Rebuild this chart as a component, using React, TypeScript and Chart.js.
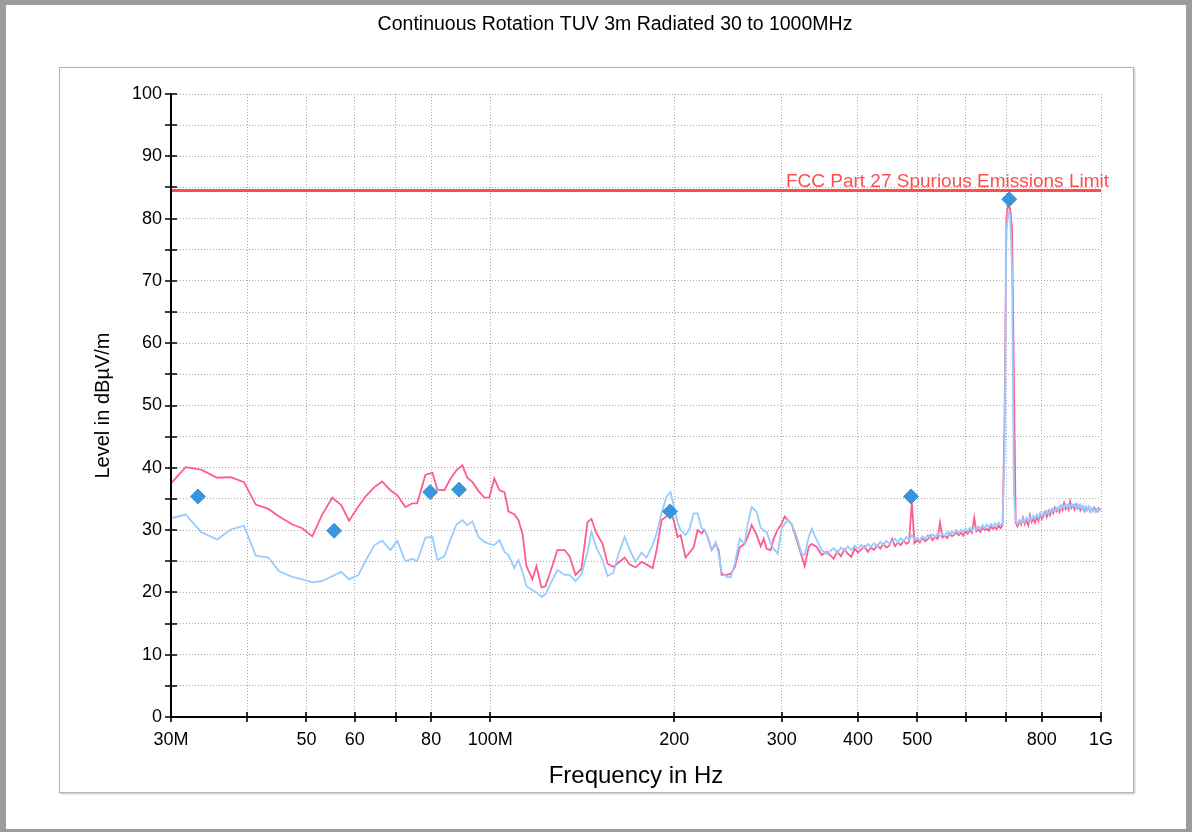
import React, { useEffect, useRef } from 'react';
import { Chart, registerables } from 'chart.js';

Chart.register(...registerables);

const FONT = "'Liberation Sans', Arial, Helvetica, sans-serif";

const chartTitle = 'Continuous Rotation TUV 3m Radiated 30 to 1000MHz';
const xAxisTitle = 'Frequency in Hz';
const yAxisTitle = 'Level in dBµV/m';
const limitLabel = 'FCC Part 27 Spurious Emissions Limit';
const limitLevel = 84.5;

const xTickValues = [30, 40, 50, 60, 70, 80, 100, 200, 300, 400, 500, 600, 700, 800, 1000];
const xTickLabels = ['30M', '', '50', '60', '', '80', '100M', '200', '300', '400', '500', '', '', '800', '1G'];
const yTickValues = [0, 5, 10, 15, 20, 25, 30, 35, 40, 45, 50, 55, 60, 65, 70, 75, 80, 85, 90, 95, 100];

// Sweep, lower band (MHz)
const freqLow = [
  30.0, 31.7, 33.6, 35.7, 37.6, 39.5, 41.3, 43.3, 45.1, 47.4, 49.2, 51.1, 53.0, 55.1, 57.0, 58.7,
  60.8, 62.6, 64.6, 66.5, 68.6, 70.4, 72.6, 74.5, 75.9, 78.3, 80.4, 81.9, 84.1, 86.0, 88.0, 90.0,
  91.7, 93.5, 95.6, 97.8, 99.6, 101.5, 103.5, 105.5, 107.1, 109.5, 111.2, 112.9, 114.6, 117.2, 119.0,
  121.3, 123.1, 125.9, 128.8, 132.3, 134.8, 137.9, 141.0, 144.3, 146.4, 149.2, 152.7, 155.6, 159.1,
  162.2, 165.9, 169.0, 172.9, 176.9, 180.2, 184.4, 187.2, 190.7, 194.4, 197.3, 199.6, 202.6, 204.9,
  208.8, 212.0, 215.2, 218.5, 221.8, 224.4, 226.9, 230.4, 233.9, 236.5, 239.2, 243.8, 247.5, 251.3,
  256.1, 260.9, 263.9, 267.9, 273.0, 277.2, 280.4, 283.5, 287.9, 291.1, 295.5, 300.0, 303.4, 306.9,
  311.6, 317.5, 323.5, 327.2, 332.2, 336.0, 342.4, 348.9, 355.6,
];
const redLow = [
  37.5, 40.1, 39.7, 38.4, 38.5, 37.7, 34.1, 33.4, 32.2, 30.9, 30.3, 29.0, 32.4, 35.2, 34.0, 31.5,
  33.8, 35.5, 36.9, 37.8, 36.4, 35.6, 33.7, 34.3, 34.3, 38.9, 39.2, 36.5, 36.4, 38.2, 39.6, 40.4,
  38.4, 37.7, 36.3, 35.2, 35.2, 38.3, 36.4, 36.1, 33.0, 32.5, 31.6, 29.4, 24.2, 22.1, 24.2,
  20.8, 21.0, 23.8, 26.8, 26.8, 25.8, 22.8, 23.8, 31.3, 31.8, 29.5, 27.8, 24.6, 24.1,
  24.8, 25.6, 24.5, 24.0, 24.9, 24.5, 23.9, 26.8, 31.6, 32.2, 32.9, 31.6, 28.9, 29.2,
  25.6, 26.4, 27.2, 30.0, 29.5, 30.0, 28.9, 26.8, 27.8, 26.8, 22.8, 22.8, 23.0, 24.0,
  27.2, 27.8, 28.9, 30.8, 29.2, 27.4, 28.6, 27.0, 26.8, 28.6, 30.1, 31.0, 32.2, 31.6,
  30.9, 28.4, 25.8, 24.2, 27.3, 27.8, 27.3, 26.0, 26.5,
];
const blueLow = [
  31.9, 32.5, 29.7, 28.5, 30.1, 30.7, 25.9, 25.6, 23.4, 22.5, 22.1, 21.6, 21.8, 22.6, 23.3, 22.1,
  22.8, 25.2, 27.6, 28.3, 26.8, 28.3, 25.0, 25.4, 25.0, 28.8, 28.9, 25.2, 25.8, 28.4, 30.9, 31.6,
  30.8, 31.4, 28.9, 28.1, 27.8, 27.6, 28.4, 26.5, 26.0, 23.9, 25.2, 23.3, 21.0, 20.4, 20.0,
  19.3, 19.7, 21.7, 23.6, 22.8, 22.8, 21.8, 22.9, 26.5, 29.7, 27.2, 25.2, 22.6, 23.2,
  26.2, 28.9, 27.0, 24.9, 26.4, 25.6, 27.6, 29.5, 32.7, 35.4, 36.1, 34.0, 31.3, 30.0,
  29.2, 30.2, 32.7, 32.7, 30.3, 30.0, 28.9, 26.8, 28.1, 26.2, 23.3, 22.5, 22.4, 24.6,
  28.6, 27.8, 31.0, 33.7, 32.9, 30.4, 29.9, 29.7, 27.8, 27.0, 26.2, 30.3, 31.0, 31.6,
  31.0, 28.9, 26.2, 26.0, 28.9, 30.2, 28.4, 26.8, 26.2,
];

// Sweep, upper band (MHz)
const freqHigh = [
  360, 365, 370, 375, 380, 385, 390, 395, 400, 405,
  410, 415, 420, 425, 430, 435, 440, 445, 450, 455,
  460, 465, 470, 475, 480, 485, 490, 495, 500, 505,
  510, 515, 520, 525, 530, 535, 540, 545, 550, 555,
  560, 565, 570, 575, 580, 585, 590, 595, 600, 605,
  610, 615, 620, 625, 630, 635, 640, 645, 650, 655,
  660, 665, 670, 675, 680, 685, 690, 695, 700, 705,
  710, 715, 720, 725, 730, 735, 740, 745, 750, 755,
  760, 765, 770, 775, 780, 785, 790, 795, 800, 805,
  810, 815, 820, 825, 830, 835, 840, 845, 850, 855,
  860, 865, 870, 875, 880, 885, 890, 895, 900, 905,
  910, 915, 920, 925, 930, 935, 940, 945, 950, 955,
  960, 965, 970, 975, 980, 985, 990, 995, 1000,
];
const redHigh = [
  26.0, 25.4, 26.6, 25.8, 26.9, 26.2, 25.7, 27.0, 26.4, 26.9,
  27.4, 26.5, 27.2, 26.8, 27.6, 27.0, 27.8, 27.2, 27.5, 28.6,
  27.4, 28.0, 27.6, 28.3, 27.8, 28.1, 34.5, 27.9, 28.4, 28.0,
  28.8, 28.2, 28.5, 29.1, 28.4, 28.9, 28.6, 31.2, 28.8, 29.1,
  28.7, 29.5, 29.0, 29.3, 29.6, 29.2, 29.6, 29.1, 29.8, 29.4,
  30.0, 29.6, 32.0, 29.8, 30.1, 29.7, 30.4, 30.0, 30.2, 29.9,
  30.6, 30.2, 30.5, 30.1, 30.7, 30.3, 30.8, 47.0, 80.0, 82.5,
  81.5, 78.5, 55.0, 31.2, 30.6, 31.5, 30.9, 32.0, 31.0, 31.6,
  30.8, 32.4, 31.3, 31.8, 31.2, 32.2, 31.5, 32.6, 31.8, 32.3,
  32.9, 32.1, 33.0, 32.4, 33.2, 32.7, 33.6, 33.0, 33.4, 32.9,
  33.8, 33.2, 34.3, 33.4, 33.9, 33.3, 34.6, 33.6, 34.0, 33.3,
  34.1, 33.5, 33.9, 33.2, 33.7, 33.4, 33.0, 33.6, 33.2, 33.7,
  33.0, 33.5, 33.1, 33.6, 33.3, 33.0, 33.5, 33.2, 33.4,
];
const blueHigh = [
  26.6, 27.1, 26.3, 27.2, 26.7, 27.4, 26.8, 27.5, 27.0, 27.6,
  27.1, 27.8, 27.3, 27.9, 27.4, 28.1, 27.6, 28.3, 27.8, 28.2,
  28.6, 28.0, 28.7, 28.2, 28.9, 28.4, 29.2, 28.5, 28.8, 28.3,
  29.0, 28.6, 29.2, 28.7, 29.3, 28.9, 29.5, 29.0, 29.4, 29.1,
  29.7, 29.2, 29.8, 29.4, 30.0, 29.5, 30.1, 29.7, 30.2, 29.8,
  30.4, 29.9, 30.5, 30.1, 30.6, 30.2, 30.8, 30.3, 30.9, 30.4,
  31.0, 30.6, 31.1, 30.7, 31.2, 30.8, 31.0, 42.0, 78.0, 81.0,
  80.5, 72.0, 36.0, 31.4, 31.0, 31.6, 31.2, 31.8, 31.3, 32.0,
  31.5, 32.1, 31.7, 32.3, 31.9, 32.5, 32.0, 32.7, 32.2, 32.8,
  32.4, 33.0, 32.6, 33.2, 32.8, 33.4, 33.0, 33.6, 33.2, 33.8,
  33.4, 34.0, 33.6, 34.2, 33.7, 34.1, 33.6, 34.2, 33.8, 34.0,
  33.5, 34.1, 33.6, 34.0, 33.4, 33.9, 33.3, 33.8, 33.2, 33.7,
  33.1, 33.5, 33.0, 33.4, 32.9, 33.3, 33.0, 33.4, 33.2,
];

// Final measurement markers
const markerFreq = [33.2, 55.5, 79.7, 88.9, 196.9, 488.5, 707.6];
const markerLevel = [35.4, 29.9, 36.1, 36.5, 33.0, 35.4, 83.1];

const decorPlugin = {
  id: 'decor',
  afterDraw(chart: any) {
    const { ctx, chartArea } = chart;
    const xs = chart.scales.x;
    const ys = chart.scales.y;
    ctx.save();
    // limit label
    const ly = ys.getPixelForValue(limitLevel);
    ctx.fillStyle = '#ff4d4d';
    ctx.font = `19px ${FONT}`;
    ctx.textAlign = 'right';
    ctx.textBaseline = 'alphabetic';
    ctx.fillText(limitLabel, chartArea.right + 8, ly - 4);
    // axis lines
    ctx.strokeStyle = '#000';
    ctx.lineWidth = 2;
    ctx.beginPath();
    ctx.moveTo(chartArea.left, chartArea.top - 1);
    ctx.lineTo(chartArea.left, chartArea.bottom);
    ctx.lineTo(chartArea.right + 1, chartArea.bottom);
    ctx.stroke();
    // tick marks crossing the axes
    ctx.lineWidth = 1.6;
    ctx.beginPath();
    ys.ticks.forEach((t: any) => {
      const py = Math.round(ys.getPixelForValue(t.value));
      ctx.moveTo(chartArea.left - 6, py);
      ctx.lineTo(chartArea.left + 6, py);
    });
    xs.ticks.forEach((t: any) => {
      const px = Math.round(xs.getPixelForValue(t.value));
      ctx.moveTo(px, chartArea.bottom - 5);
      ctx.lineTo(px, chartArea.bottom + 5);
    });
    ctx.stroke();
    ctx.restore();
  },
};

export default function App() {
  const ref = useRef<HTMLCanvasElement>(null);

  useEffect(() => {
    const canvas = ref.current;
    if (!canvas) return;
    const toPoints = (f: number[], v: number[]) => f.map((x, i) => ({ x, y: v[i] }));
    const redPts = [...toPoints(freqLow, redLow), ...toPoints(freqHigh, redHigh)];
    const bluePts = [...toPoints(freqLow, blueLow), ...toPoints(freqHigh, blueHigh)];
    const markerPts = toPoints(markerFreq, markerLevel);

    const chart = new Chart(canvas, {
      type: 'line',
      data: {
        datasets: [
          {
            type: 'scatter',
            label: 'Final',
            data: markerPts,
            pointStyle: 'rectRot',
            pointRadius: 7.5,
            backgroundColor: '#3b95da',
            borderColor: '#3b95da',
            borderWidth: 1,
            showLine: false,
          } as any,
          {
            label: 'Limit',
            data: [{ x: 30, y: limitLevel }, { x: 1000, y: limitLevel }],
            borderColor: '#ff4d4d',
            borderWidth: 3,
            pointRadius: 0,
          },
          {
            label: 'Vertical',
            data: bluePts,
            borderColor: '#99cbff',
            borderWidth: 1.8,
            pointRadius: 0,
            tension: 0,
          },
          {
            label: 'Horizontal',
            data: redPts,
            borderColor: '#ff5c8c',
            borderWidth: 1.8,
            pointRadius: 0,
            tension: 0,
          },
        ],
      },
      options: {
        responsive: false,
        animation: false,
        devicePixelRatio: 1,
        font: { family: FONT },
        layout: { padding: { left: 129, right: 91, top: 0, bottom: 40 } },
        plugins: {
          legend: { display: false },
          tooltip: { enabled: false },
          title: {
            display: true,
            text: chartTitle,
            color: '#000',
            font: { family: FONT, size: 19.5, weight: 'normal' },
            padding: { top: 13.3, bottom: 57.3 },
          },
        },
        scales: {
          x: {
            type: 'logarithmic',
            min: 30,
            max: 1000,
            afterBuildTicks: (s: any) => {
              s.ticks = xTickValues.map((v) => ({ value: v }));
            },
            afterFit: (s: any) => {
              s.height = 75;
            },
            ticks: {
              autoSkip: false,
              maxRotation: 0,
              minRotation: 0,
              padding: 12,
              color: '#000',
              font: { family: FONT, size: 18 },
              callback: (_v: any, i: number) => xTickLabels[i] ?? '',
            },
            grid: { color: '#a8a8a8', lineWidth: 1, drawTicks: false },
            border: { display: false, dash: [1, 2] },
            title: {
              display: true,
              text: xAxisTitle,
              color: '#000',
              font: { family: FONT, size: 24 },
              padding: { top: 0, bottom: 1 },
            },
          },
          y: {
            type: 'linear',
            min: 0,
            max: 100,
            afterBuildTicks: (s: any) => {
              s.ticks = yTickValues.map((v) => ({ value: v }));
            },
            afterFit: (s: any) => {
              s.width = 42;
            },
            ticks: {
              padding: 9,
              color: '#000',
              font: { family: FONT, size: 18 },
              callback: (v: any) => (Number(v) % 10 === 0 ? String(v) : ''),
            },
            grid: { color: '#a8a8a8', lineWidth: 1, drawTicks: false },
            border: { display: false, dash: [1, 2] },
            title: {
              display: true,
              text: yAxisTitle,
              color: '#000',
              font: { family: FONT, size: 20 },
              padding: { top: -38, bottom: 0 },
            },
          },
        },
      } as any,
      plugins: [decorPlugin],
    });
    return () => chart.destroy();
  }, []);

  return (
    <div style={{ position: 'absolute', left: 0, top: 0, width: 1192, height: 832, background: '#fff', overflow: 'hidden' }}>
      <div
        style={{
          position: 'absolute',
          left: 0,
          top: 0,
          width: 1192,
          height: 832,
          boxSizing: 'border-box',
          borderStyle: 'solid',
          borderColor: '#9c9c9c',
          borderWidth: '5px 6px 3px 6px',
        }}
      />
      <div
        style={{
          position: 'absolute',
          left: 59,
          top: 67,
          width: 1073,
          height: 724,
          border: '1px solid #b5b5b5',
          boxShadow: '1px 1px 2px rgba(0,0,0,0.25)',
        }}
      />
      <canvas
        ref={ref}
        width={1192}
        height={832}
        style={{ position: 'absolute', left: 0, top: 0, width: 1192, height: 832 }}
      />
    </div>
  );
}
